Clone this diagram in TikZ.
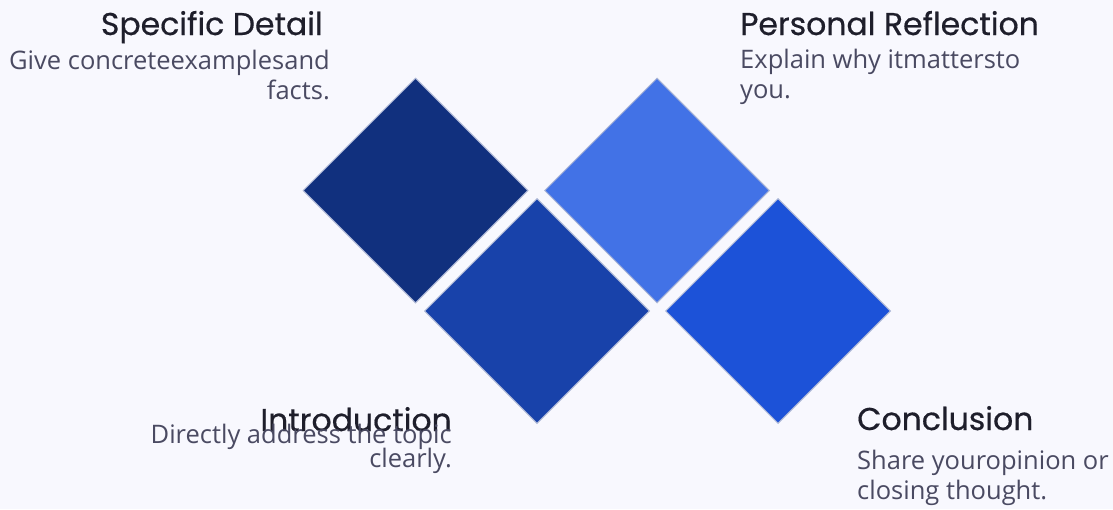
\documentclass[tikz,border=0pt]{standalone}
\usepackage{fontspec}
\setmainfont{Open Sans}
\newfontfamily\headfont{Poppins}[FakeBold=0.5]
\usetikzlibrary{shapes.geometric}

\definecolor{pagebg}{HTML}{F8F8FE}
\definecolor{tileedge}{HTML}{AEB8D6}
\definecolor{navy}{HTML}{11307E}
\definecolor{royal}{HTML}{1842AA}
\definecolor{sky}{HTML}{4272E6}
\definecolor{vivid}{HTML}{1C52D8}
\definecolor{headcol}{HTML}{1E1E2B}
\definecolor{bodycol}{HTML}{4A4A62}

\tikzset{
  tile/.style={diamond, aspect=1, minimum size=225pt, inner sep=0pt, draw=tileedge, line width=1pt},
  head/.style={font=\headfont\fontsize{31.5}{36}\selectfont, text=headcol, inner sep=0pt},
  body/.style={font=\fontsize{25.5}{30}\selectfont, text=bodycol, inner sep=0pt}
}

\begin{document}
\begin{tikzpicture}[x=1pt,y=-1pt]

\fill[pagebg] (0,0) rectangle (1113,509) ;
\useasboundingbox (0,0) rectangle (1113,509) ;

% losanges

\node[tile, fill=navy] (detail) at (415.5,190.5) {} ;
\node[tile, fill=royal] (intro) at (537,311) {} ;
\node[tile, fill=sky] (reflect) at (657,190.5) {} ;
\node[tile, fill=vivid] (concl) at (778,311) {} ;

% textes (ancre = ligne de base de la derniere ligne)

\node[head, anchor=base east] (detailhead) at (323,35) {Specific Detail} ;
\node[body, anchor=base east, align=right] (detailtext) at (330,99) {Give concreteexamplesand\\facts.} ;

\node[head, anchor=base west] (reflecthead) at (740,35) {Personal Reflection} ;
\node[body, anchor=base west, align=left] (reflecttext) at (740,98) {Explain why itmattersto\\you.} ;

\node[head, anchor=base east] (introhead) at (452,431) {Introduction} ;
\node[body, anchor=base east, align=right] (introtext) at (452,467) {Directly address the topic\\[-6pt]clearly.} ;

\node[head, anchor=base west] (conclhead) at (857,430) {Conclusion} ;
\node[body, anchor=base west, align=left] (concltext) at (857,499) {Share youropinion or\\closing thought.} ;

\end{tikzpicture}
\end{document}
